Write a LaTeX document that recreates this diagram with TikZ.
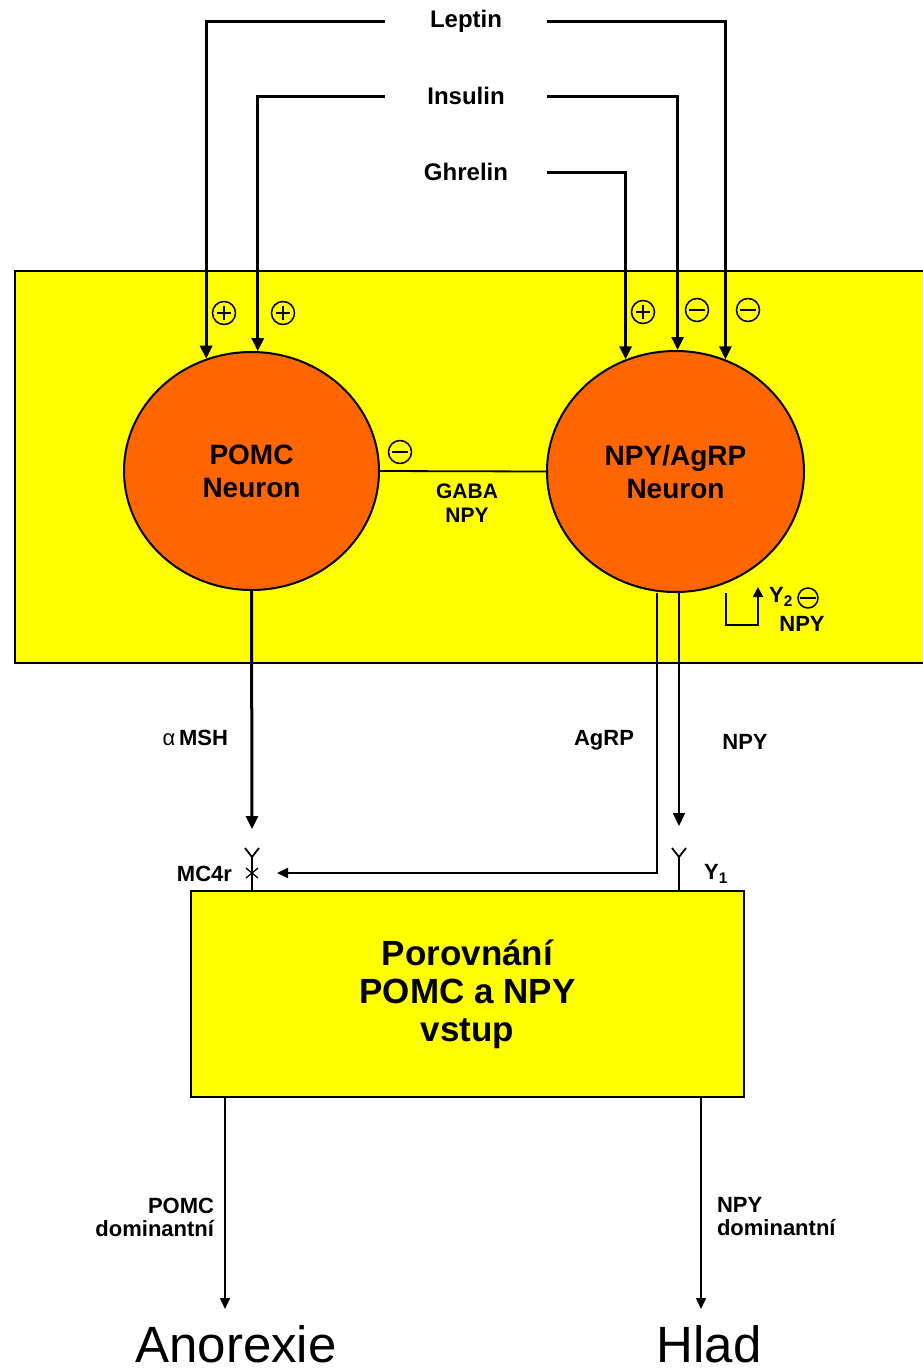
\documentclass[tikz,border=0pt]{standalone}
\usepackage{fontspec}
\setmainfont{Liberation Sans}
\usetikzlibrary{arrows.meta,shapes.geometric}
\definecolor{nucleus}{RGB}{255,255,0}
\definecolor{soma}{RGB}{255,102,0}
\tikzset{
  sgn/.style={circle,draw,line width=1.5pt,minimum size=23,inner sep=0pt},
  signplus/.style={sgn,path picture={
      \draw[line width=1.5pt] ([xshift=-7pt]path picture bounding box.center) -- ([xshift=7pt]path picture bounding box.center)
        ([yshift=-7pt]path picture bounding box.center) -- ([yshift=7pt]path picture bounding box.center);}},
  signminus/.style={sgn,path picture={
      \draw[line width=2pt] ([xshift=-8pt]path picture bounding box.center) -- ([xshift=8pt]path picture bounding box.center);}},
}

\begin{document}
\begin{tikzpicture}[x=1pt,y=-1pt,line width=2pt,
  thk/.style={line width=3pt},
  thn/.style={line width=1.8pt},
  tip/.style={-{Triangle[length=13pt,width=12pt]}},
  smalltip/.style={-{Triangle[length=11pt,width=10pt]}},
  hormone/.style={font=\fontsize{24}{28}\selectfont\bfseries,minimum width=160,inner sep=0pt},
  lbl/.style={font=\fontsize{22}{23}\selectfont\bfseries,inner sep=0pt},
  neuron/.style={ellipse,draw,fill=soma,line width=2pt,align=center,inner sep=0pt,
    font=\fontsize{28}{33}\selectfont\bfseries},
  outcome/.style={font=\fontsize{51}{56}\selectfont,inner sep=0pt}]
  \useasboundingbox (0,0) rectangle (923,1371);
  \fill[white] (0,0) rectangle (923,1371);
  \draw[fill=nucleus] (15,271) rectangle (940,663);

  % hormones and their inputs
  \node[hormone] (leptin) at (466,21) {Leptin};
  \node[hormone] (insulin) at (466,96) {Insulin};
  \node[hormone] (ghrelin) at (466,172) {Ghrelin};

  \node[neuron,minimum width=255,minimum height=238] (pomc) at (251.5,471) {POMC\\Neuron};
  \node[neuron,minimum width=257,minimum height=241] (npy) at (675.5,471.5) {NPY/AgRP\\Neuron};

  \draw[thk,tip] (leptin.west) -| (pomc.112.8);
  \draw[thk,tip] (insulin.west) -| (pomc.87.8);
  \draw[thk,tip] (ghrelin.east) -| (npy.114);
  \draw[thk,tip] (insulin.east) -| (npy.89.3);
  \draw[thk,tip] (leptin.east) -| (npy.66);

  \foreach \s/\x/\y/\n in {signplus/224/313/s1,signplus/283/313/s2,signplus/643/312/s3,
                          signminus/697/310/s4,signminus/748/310/s5,signminus/400/452/s6}{
    \node[\s] (\n) at (\x,\y) {};}

  % link between the neurons
  \draw[thn] (pomc.east) -- (npy.west);
  \node[lbl,align=center,font=\fontsize{21}{24}\selectfont\bfseries] (gaba) at (467,503) {GABA\\NPY};

  % Y2 feedback
  \coordinate (fbstart) at (726,593);
  \coordinate (fbend) at (758,587);
  \draw[thn,-{Triangle[length=10pt,width=10pt]}] (fbstart) -- ++(0,32) -| (fbend);
  \node[lbl] (y2) at (781,597) {Y\textsubscript{2}};
  \node[signminus,minimum size=20] (s7) at (808,598) {};
  \node[lbl] (fbnpy) at (802,624) {NPY};

  % comparison box
  \node[draw,fill=nucleus,line width=2pt,minimum width=553,minimum height=206,align=center,
        font=\fontsize{35}{38}\selectfont\bfseries] (cmp) at (467.5,994) {Porovnání\\POMC a NPY\\vstup};

  % receptors
  \coordinate (mc4r) at (252,857);
  \draw[thn] (mc4r |- cmp.north) -- (mc4r) -- ++(-7,-9) (mc4r) -- ++(7,-9);
  \draw[line width=1.3pt] (mc4r) ++(-6,11) -- ++(12,10) (mc4r) ++(-6,21) -- ++(12,-10);
  \coordinate (y1) at (679,857);
  \draw[thn] (y1 |- cmp.north) -- (y1) -- ++(-7,-9) (y1) -- ++(7,-9);

  % outputs of the neurons
  \coordinate (msh) at (252,829);
  \draw[thk,tip] (pomc.south) -- (msh);
  \node[lbl,anchor=east] (mshl) at (229,738) {{\mdseries α}\,MSH};
  \coordinate (npyend) at (679,826);
  \draw[thn,tip] (npyend |- npy.south) -- (npyend);
  \coordinate (agrpx) at (657,873);
  \coordinate (agrpend) at (277,873);
  \draw[thn,smalltip] (agrpx |- npy.south) -- (agrpx) -- (agrpend);
  \node[lbl] (agrpl) at (604,740) {AgRP};
  \node[lbl] (npyl) at (745,742) {NPY};
  \node[lbl,anchor=east] (mc4rl) at (233,874) {MC4r};
  \node[lbl] (y1l) at (716,874) {Y\textsubscript{1}};

  % results
  \coordinate (anox) at (225,1309);
  \coordinate (hung) at (701,1309);
  \draw[line width=1.5pt,smalltip] (anox |- cmp.south) -- (anox);
  \draw[line width=1.5pt,smalltip] (hung |- cmp.south) -- (hung);
  \node[lbl,align=right,anchor=east] (pdom) at (215,1217) {POMC\\dominantní};
  \node[lbl,align=left,anchor=west] (ndom) at (716,1217) {NPY\\dominantní};
  \node[outcome] (anorexie) at (236,1344) {Anorexie};
  \node[outcome] (hlad) at (709,1344) {Hlad};
\end{tikzpicture}
\end{document}
